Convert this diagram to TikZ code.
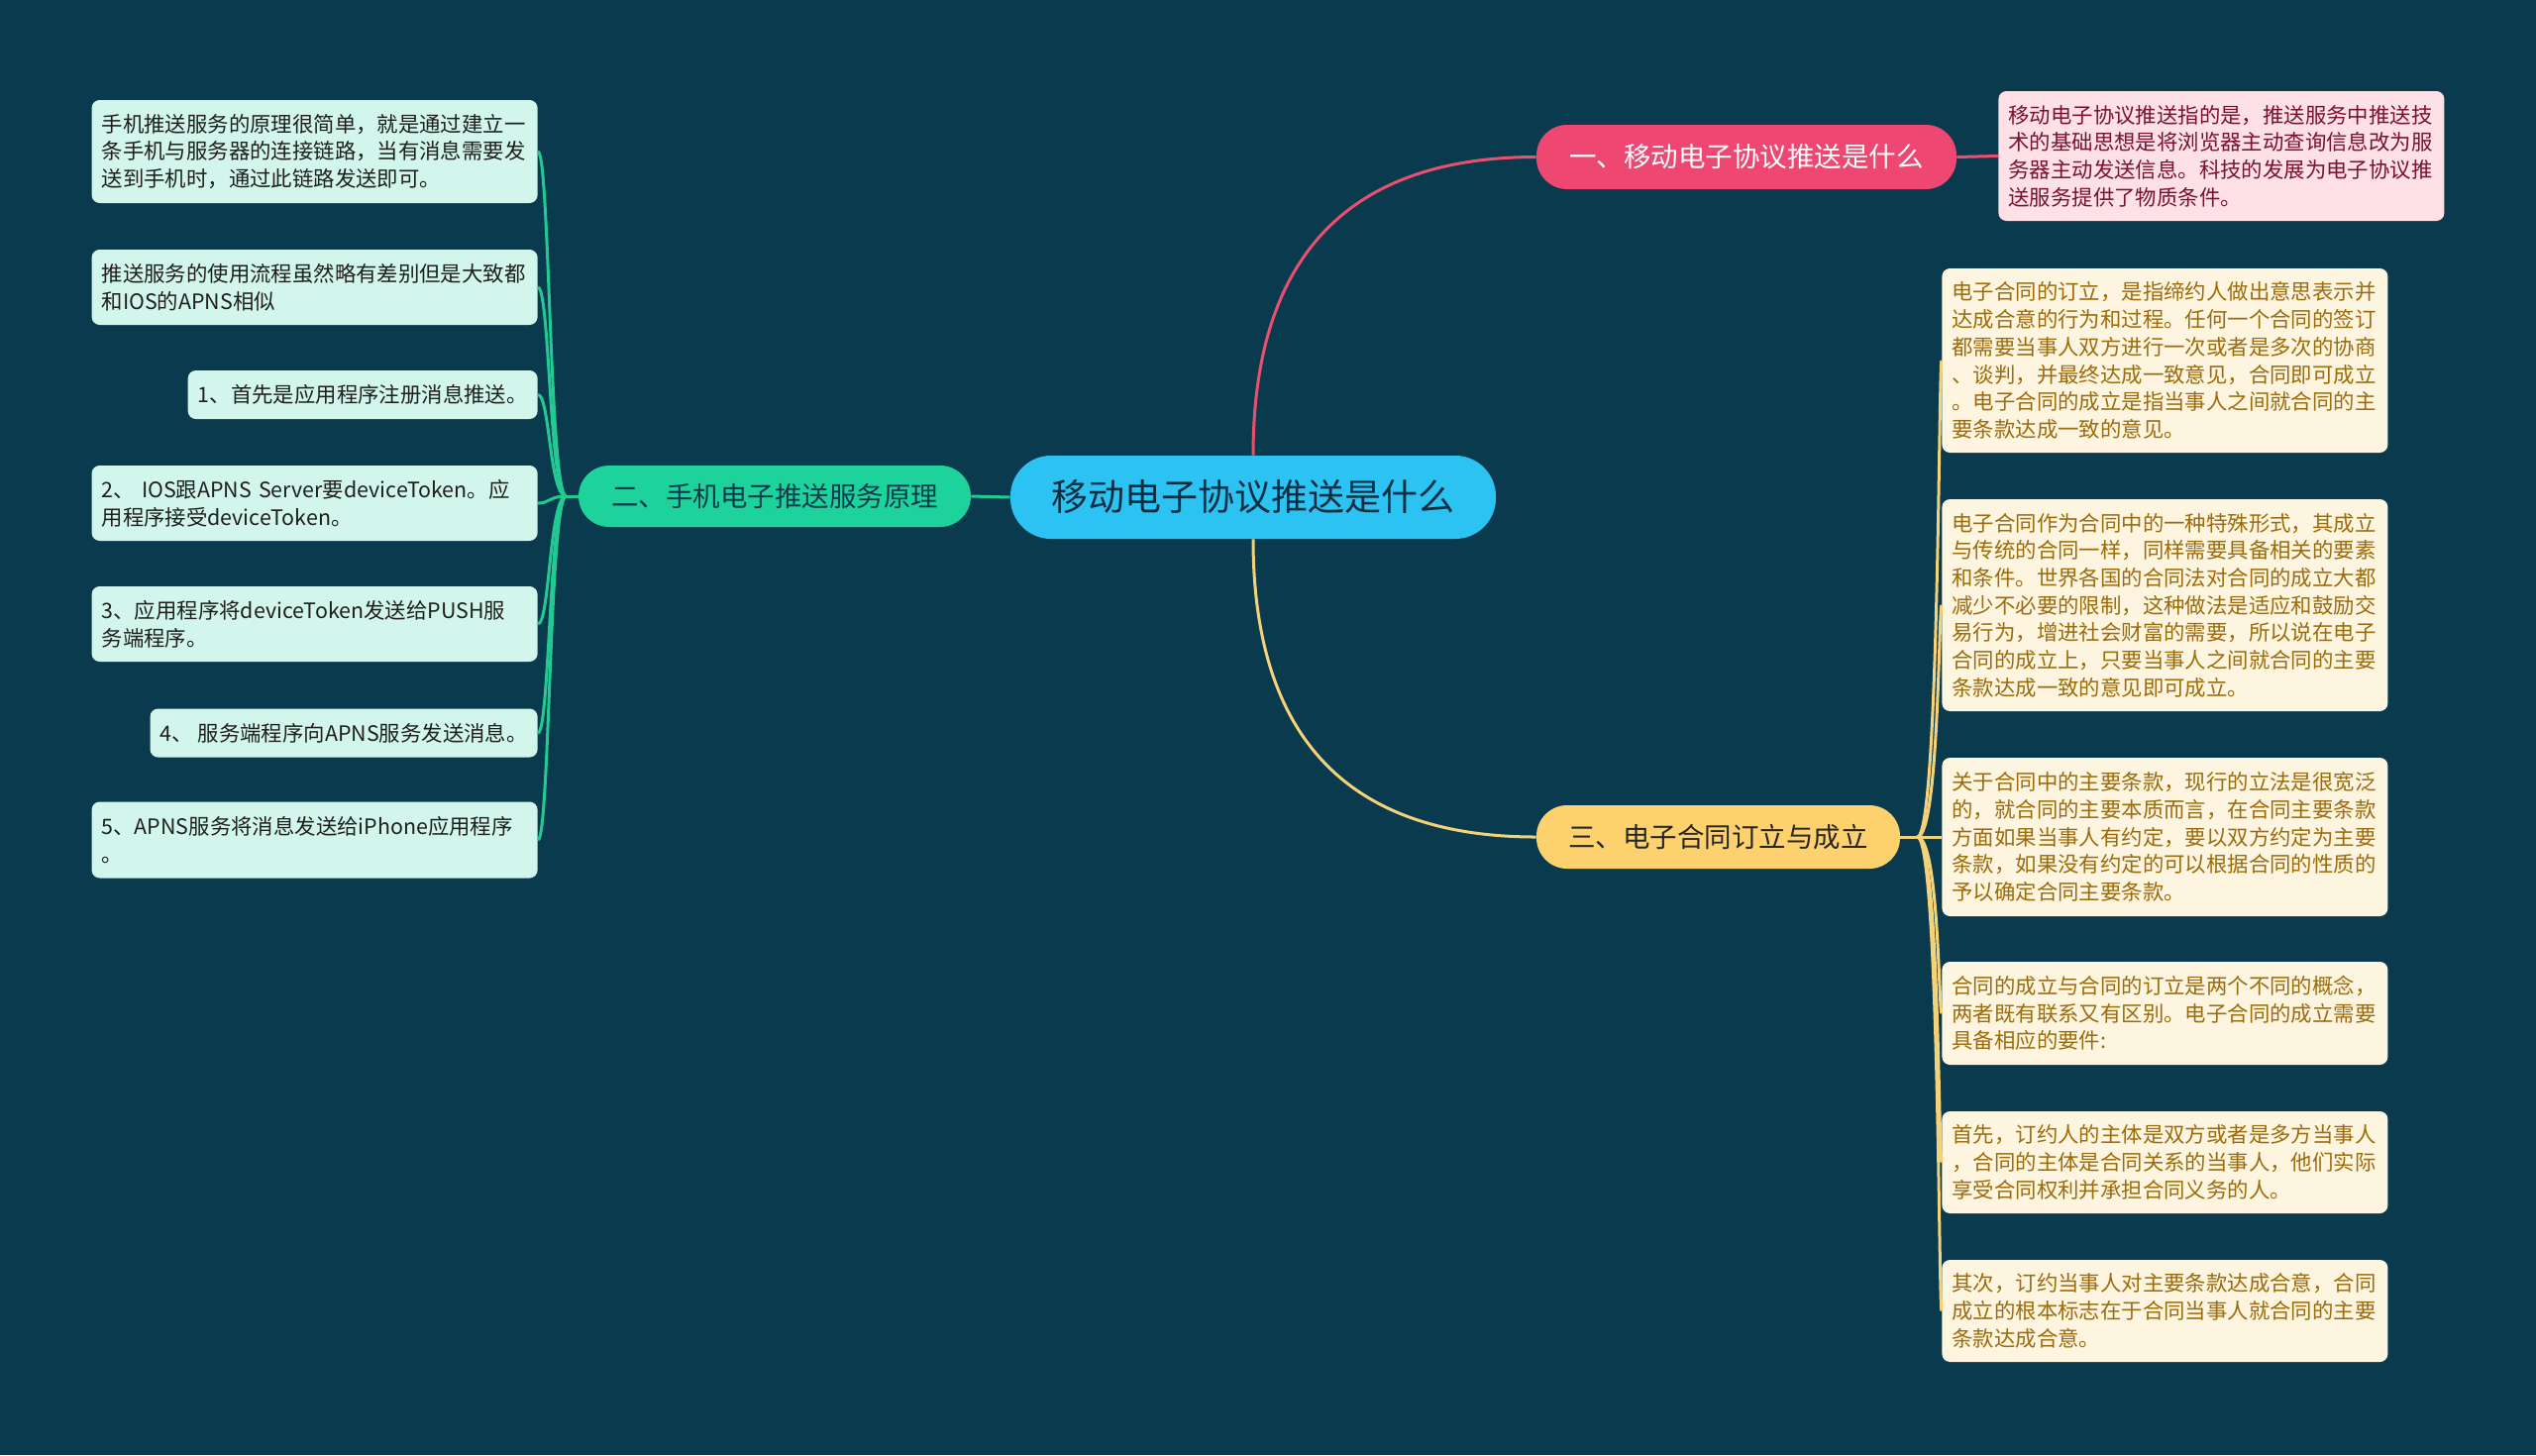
\documentclass[tikz,border=0pt]{standalone}
\usepackage{fontspec}
\setmainfont{Noto Sans CJK SC}
\usetikzlibrary{calc}

\definecolor{bgcol}{HTML}{0A3A4E}
\definecolor{rootfill}{HTML}{2CC3F3}
\definecolor{roottext}{HTML}{0E2E42}
\definecolor{pinkfill}{HTML}{EE4872}
\definecolor{greenfill}{HTML}{1DD39B}
\definecolor{greentext}{HTML}{0D3B4C}
\definecolor{yellowfill}{HTML}{FDD26E}
\definecolor{leafgreen}{HTML}{D2F6EC}
\definecolor{leafpink}{HTML}{FDE1E7}
\definecolor{leafyellow}{HTML}{FDF5DF}
\definecolor{pinktext}{HTML}{7B1132}
\definecolor{yellowtext}{HTML}{9C6B0B}
\definecolor{pinkline}{HTML}{E8506F}
\definecolor{greenline}{HTML}{22C993}
\definecolor{yellowline}{HTML}{F3D27A}

\newcommand\leaffont{\fontsize{10.7pt}{13.85pt}\selectfont}
\newcommand\branchfont{\fontsize{13.75pt}{16pt}\selectfont}
\newcommand\rootfont{\fontsize{18.5pt}{22pt}\selectfont}

\tikzset{
  root/.style={fill=rootfill, text=roottext, font=\rootfont, rounded corners=20.5pt,
    minimum width=245pt, minimum height=42pt, inner sep=0pt},
  branch/.style={font=\branchfont, rounded corners=15.5pt, inner sep=0pt},
  leaf/.style={font=\leaffont, rounded corners=4pt, align=left, inner xsep=5pt, inner ysep=0pt},
  wideleaf/.style={leaf, text width=215pt},
  gleaf/.style={fill=leafgreen, text=black!88, anchor=east},
  pleaf/.style={fill=leafpink, text=pinktext, anchor=west},
  yleaf/.style={fill=leafyellow, text=yellowtext, anchor=west},
  plink/.style={draw=pinkline, line width=1.5pt},
  glink/.style={draw=greenline, line width=1.5pt},
  ylink/.style={draw=yellowline, line width=1.5pt}
}

\begin{document}
\begin{tikzpicture}[x=0.5pt,y=-0.5pt]
  \fill[bgcol] (0,0) rectangle (2560,1469);
  \useasboundingbox (0,0) rectangle (2560,1469);

  % root and main branches
  \node[root] (root) at (1265,502) {移动电子协议推送是什么};
  \node[branch, fill=pinkfill, text=white, minimum width=212pt, minimum height=32.5pt] (b1) at (1763,158.5) {一、移动电子协议推送是什么};
  \node[branch, fill=greenfill, text=greentext, minimum width=198pt, minimum height=31pt] (b2) at (782,501) {二、手机电子推送服务原理};
  \node[branch, fill=yellowfill, text=black!85, minimum width=183.5pt, minimum height=32pt] (b3) at (1734.5,845) {三、电子合同订立与成立};

  \draw[plink] (root.north) .. controls +(0,-200) and +(-190,0) .. (b1.west);
  \draw[glink] (root.west) -- (b2.east);
  \draw[ylink] (root.south) .. controls +(0,200) and +(-190,0) .. (b3.west);

  % branch one
  \node[wideleaf, pleaf, minimum height=65.5pt] (p1) at (2017,157.5) {移动电子协议推送指的是，推送服务中推送技\\术的基础思想是将浏览器主动查询信息改为服\\务器主动发送信息。科技的发展为电子协议推\\送服务提供了物质条件。};
  \draw[plink] (b1.east) -- (p1.west);

  % branch two
  \node[wideleaf, gleaf, minimum height=52pt] (g1) at (543,153) {手机推送服务的原理很简单，就是通过建立一\\条手机与服务器的连接链路，当有消息需要发\\送到手机时，通过此链路发送即可。};
  \node[wideleaf, gleaf, minimum height=38pt] (g2) at (543,290) {推送服务的使用流程虽然略有差别但是大致都\\和IOS的APNS相似};
  \node[leaf, gleaf, minimum height=24.5pt] (g3) at (543,398.5) {1、首先是应用程序注册消息推送。};
  \node[wideleaf, gleaf, minimum height=38pt] (g4) at (543,508) {2、~IOS跟APNS~Server要deviceToken。应\\用程序接受deviceToken。};
  \node[wideleaf, gleaf, minimum height=38pt] (g5) at (543,630) {3、应用程序将deviceToken发送给PUSH服\\务端程序。};
  \node[leaf, gleaf, minimum height=24.5pt] (g6) at (543,740) {4、~服务端程序向APNS服务发送消息。};
  \node[wideleaf, gleaf, minimum height=38.5pt] (g7) at (543,848) {5、APNS服务将消息发送给iPhone应用程序\\。};

  \coordinate (gs) at ($(b2.west)+(-12,0)$);
  \draw[glink] (b2.west) -- (gs);
  \foreach \n in {g1,g2,g3,g4,g5,g6,g7}
    \draw[glink] (gs) .. controls +(-17,0) and +(12,0) .. (\n.east);

  % branch three
  \node[wideleaf, yleaf, minimum height=93pt] (y1) at (1960,364) {电子合同的订立，是指缔约人做出意思表示并\\达成合意的行为和过程。任何一个合同的签订\\都需要当事人双方进行一次或者是多次的协商\\、谈判，并最终达成一致意见，合同即可成立\\。电子合同的成立是指当事人之间就合同的主\\要条款达成一致的意见。};
  \node[wideleaf, yleaf, minimum height=107pt] (y2) at (1960,611) {电子合同作为合同中的一种特殊形式，其成立\\与传统的合同一样，同样需要具备相关的要素\\和条件。世界各国的合同法对合同的成立大都\\减少不必要的限制，这种做法是适应和鼓励交\\易行为，增进社会财富的需要，所以说在电子\\合同的成立上，只要当事人之间就合同的主要\\条款达成一致的意见即可成立。};
  \node[wideleaf, yleaf, minimum height=80pt] (y3) at (1960,845) {关于合同中的主要条款，现行的立法是很宽泛\\的，就合同的主要本质而言，在合同主要条款\\方面如果当事人有约定，要以双方约定为主要\\条款，如果没有约定的可以根据合同的性质的\\予以确定合同主要条款。};
  \node[wideleaf, yleaf, minimum height=52pt] (y4) at (1960,1023) {合同的成立与合同的订立是两个不同的概念，\\两者既有联系又有区别。电子合同的成立需要\\具备相应的要件:};
  \node[wideleaf, yleaf, minimum height=51.5pt] (y5) at (1960,1173.5) {首先，订约人的主体是双方或者是多方当事人\\，合同的主体是合同关系的当事人，他们实际\\享受合同权利并承担合同义务的人。};
  \node[wideleaf, yleaf, minimum height=51.5pt] (y6) at (1960,1323.5) {其次，订约当事人对主要条款达成合意，合同\\成立的根本标志在于合同当事人就合同的主要\\条款达成合意。};

  \coordinate (ys) at ($(b3.east)+(17,0)$);
  \draw[ylink] (b3.east) -- (ys);
  \foreach \n in {y1,y2,y3,y4,y5,y6}
    \draw[ylink] (ys) .. controls +(22,0) and +(-3,0) .. (\n.west);
\end{tikzpicture}
\end{document}
